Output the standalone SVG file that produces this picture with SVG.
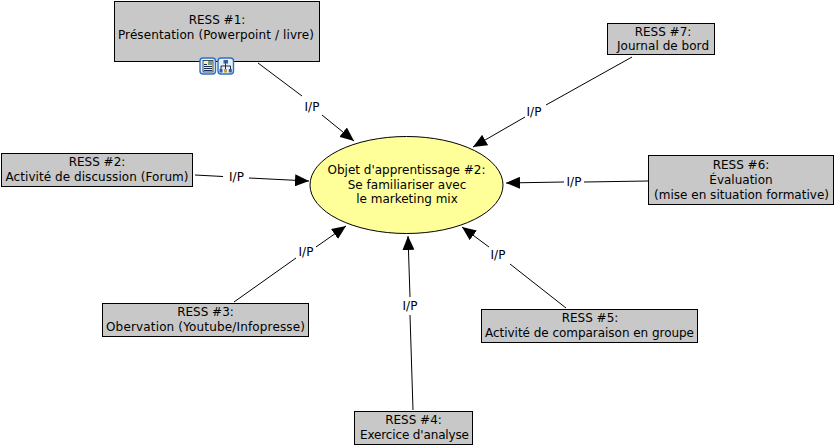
<svg xmlns="http://www.w3.org/2000/svg" width="835" height="447" viewBox="0 0 835 447">
<style>
text{font-family:"DejaVu Sans",Verdana,sans-serif;font-size:12px;fill:#000;text-anchor:middle}
.box{fill:#c8c8c8;stroke:#000;stroke-width:1}
.c{stroke:#000;stroke-width:1;fill:none;marker-end:url(#a)}
.l{stroke:#000;stroke-width:1;fill:none}
.ic{fill:#e4f0fb;stroke:#2a70c8;stroke-width:1.400}
.d{stroke:#1a2a50;stroke-width:1;fill:none}
</style>
<defs><marker id="a" markerUnits="userSpaceOnUse" markerWidth="14" markerHeight="12" refX="14" refY="6" orient="auto"><path d="M0 0L14 6L0 12z" fill="#000"/></marker></defs>
<rect width="835" height="447" fill="#fff"/>
<g id="connectors">
<path class="l" d="M258 63L302 96"/><path class="c" d="M322 115L354 141"/><text x="312" y="111">I/P</text>
<path class="l" d="M195 175L223 176.500"/><path class="c" d="M249 178L309 181"/><text x="236.500" y="181">I/P</text>
<path class="l" d="M234 302L296 258"/><path class="c" d="M316 247L346 226"/><text x="306" y="256">I/P</text>
<path class="l" d="M413 410L410 315"/><path class="c" d="M410 297L408 236"/><text x="410" y="310">I/P</text>
<path class="l" d="M566 308L510 264"/><path class="c" d="M489 247L462 227"/><text x="498" y="259">I/P</text>
<path class="l" d="M648 181L584 182"/><path class="c" d="M564 182L506 183"/><text x="574" y="186">I/P</text>
<path class="l" d="M632 57L546 105"/><path class="c" d="M525 117L473 147"/><text x="534" y="116">I/P</text>
</g>
<g id="center"><ellipse cx="406.500" cy="185" rx="96.500" ry="48.500" fill="#ffff99" stroke="#000"/><text x="406.500" y="174" textLength="158">Objet d'apprentissage #2:</text><text x="407" y="189">Se familiariser avec</text><text x="407" y="203">le marketing mix</text></g>
<g id="n1"><rect class="box" x="114.500" y="1.500" width="205" height="60"/><text x="217" y="24">RESS #1:</text><text x="216" y="39" textLength="196">Présentation (Powerpoint / livre)</text>
<rect class="ic" x="200" y="58" width="15.500" height="16" rx="3"/><rect x="203" y="60.500" width="10" height="11.500" fill="#f7eeb0" stroke="#1a2a50" stroke-width=".8"/><rect x="208" y="61" width="4.500" height="4" fill="#7a9a7a"/><path class="d" d="M204 64.500h3M204 66.500h8M204 68.500h8M204 70.500h8" stroke-width=".7"/>
<rect class="ic" x="218" y="58" width="15.500" height="16" rx="3"/><path class="d" d="M225.500 62v4M221 69v-3h9.500v3M225.500 66v3"/><rect x="223.500" y="60" width="4.500" height="3.500" fill="#3a5a9a"/><rect x="219.500" y="69" width="3" height="3.500" fill="#3a5a9a"/><rect x="224" y="69" width="3" height="3.500" fill="#c8a040"/><rect x="228.800" y="69" width="3" height="3.500" fill="#3a5a9a"/></g>
<g id="n2"><rect class="box" x="1.500" y="153.500" width="191" height="33"/><text x="97" y="166">RESS #2:</text><text x="97" y="181" textLength="183">Activité de discussion (Forum)</text></g>
<g id="n3"><rect class="box" x="102.500" y="303.500" width="206" height="33"/><text x="205.500" y="316">RESS #3:</text><text x="205.500" y="331" textLength="199">Obervation (Youtube/Infopresse)</text></g>
<g id="n4"><rect class="box" x="354.500" y="411.500" width="118" height="33"/><text x="413.500" y="424">RESS #4:</text><text x="414.500" y="439" textLength="109">Exercice d'analyse</text></g>
<g id="n5"><rect class="box" x="481.500" y="309.500" width="216" height="33"/><text x="590" y="322">RESS #5:</text><text x="589.500" y="337" textLength="209">Activité de comparaison en groupe</text></g>
<g id="n6"><rect class="box" x="648.500" y="155.500" width="185" height="49"/><text x="741" y="169">RESS #6:</text><text x="741" y="184">Évaluation</text><text x="741.500" y="199" textLength="175">(mise en situation formative)</text></g>
<g id="n7"><rect class="box" x="607.500" y="23.500" width="107" height="31"/><text x="663" y="36">RESS #7:</text><text x="663" y="50" textLength="92">Journal de bord</text></g>
</svg>
